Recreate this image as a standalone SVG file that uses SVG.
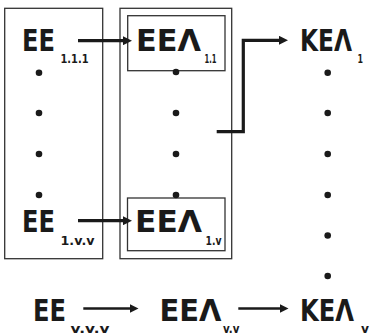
<svg xmlns="http://www.w3.org/2000/svg" width="370" height="334" viewBox="0 0 370 334">
<defs>
<style>
.box{fill:none;stroke:#333;stroke-width:1.3}
.big{font-family:"DejaVu Sans","Liberation Sans",sans-serif;font-weight:bold;font-size:30px;fill:#1a1a1a}
.sub{font-family:"DejaVu Sans","Liberation Sans",sans-serif;font-weight:bold;font-size:13px;fill:#1a1a1a}
.dot{fill:#1a1a1a}
.arr{fill:none;stroke:#1a1a1a;stroke-width:3.2;marker-end:url(#ah)}
.arr2{fill:none;stroke:#1a1a1a;stroke-width:2.6;marker-end:url(#ah)}
</style>
<marker id="ah" viewBox="0 0 9 9" refX="1" refY="4.5" markerWidth="9" markerHeight="9" markerUnits="userSpaceOnUse" orient="auto">
<path d="M0,0 L9,4.5 L0,9 z" fill="#1a1a1a"/>
</marker>
</defs>
<rect width="370" height="334" fill="#fff"/>

<g id="box-left"><rect class="box" x="4.7" y="8.3" width="98" height="250.4"/></g>
<g id="box-middle"><rect class="box" x="120" y="8.3" width="111.7" height="250.4"/></g>
<g id="box-eel11"><rect class="box" x="127.7" y="15.7" width="97.3" height="55"/></g>
<g id="box-eel1v"><rect class="box" x="127.5" y="198" width="97.5" height="52.7"/></g>

<g id="node-ee111">
<text class="big" x="22" y="51" textLength="33" lengthAdjust="spacingAndGlyphs">EE</text>
<text class="sub" x="60.5" y="63" textLength="28" lengthAdjust="spacingAndGlyphs">1.1.1</text>
</g>
<g id="node-eel11">
<text class="big" x="136" y="51" textLength="65" lengthAdjust="spacingAndGlyphs">EEΛ</text>
<text class="sub" x="204.5" y="63" textLength="12" lengthAdjust="spacingAndGlyphs">1.1</text>
</g>
<g id="node-kel1">
<text class="big" x="300" y="51" textLength="52" lengthAdjust="spacingAndGlyphs">KEΛ</text>
<text class="sub" x="357.5" y="63" textLength="5.5" lengthAdjust="spacingAndGlyphs">1</text>
</g>
<g id="node-ee1vv">
<text class="big" x="22" y="231.5" textLength="33" lengthAdjust="spacingAndGlyphs">EE</text>
<text class="sub" x="60.5" y="245" textLength="34" lengthAdjust="spacingAndGlyphs">1.v.v</text>
</g>
<g id="node-eel1v">
<text class="big" x="135" y="231.5" textLength="67" lengthAdjust="spacingAndGlyphs">EEΛ</text>
<text class="sub" x="205.5" y="245" textLength="16" lengthAdjust="spacingAndGlyphs">1.v</text>
</g>
<g id="node-eevvv">
<text class="big" x="33" y="320.5" textLength="33" lengthAdjust="spacingAndGlyphs">EE</text>
<text class="sub" x="70.5" y="332.5" textLength="39" lengthAdjust="spacingAndGlyphs">v.v.v</text>
</g>
<g id="node-eelvv">
<text class="big" x="159.5" y="320.5" textLength="62" lengthAdjust="spacingAndGlyphs">EEΛ</text>
<text class="sub" x="223" y="332.5" textLength="16.5" lengthAdjust="spacingAndGlyphs">v.v</text>
</g>
<g id="node-kelv">
<text class="big" x="300" y="320.5" textLength="54" lengthAdjust="spacingAndGlyphs">KEΛ</text>
<text class="sub" x="361" y="332.5" textLength="8" lengthAdjust="spacingAndGlyphs">v</text>
</g>

<g id="dots">
<circle class="dot" cx="39" cy="72.7" r="3.3"/>
<circle class="dot" cx="39" cy="113" r="3.3"/>
<circle class="dot" cx="39" cy="154" r="3.3"/>
<circle class="dot" cx="39" cy="195" r="3.3"/>
<circle class="dot" cx="176" cy="72" r="3.3"/>
<circle class="dot" cx="176" cy="113" r="3.3"/>
<circle class="dot" cx="176" cy="154" r="3.3"/>
<circle class="dot" cx="176" cy="195" r="3.3"/>
<circle class="dot" cx="327.7" cy="72.7" r="3.3"/>
<circle class="dot" cx="327.7" cy="113" r="3.3"/>
<circle class="dot" cx="327.7" cy="154" r="3.3"/>
<circle class="dot" cx="327.7" cy="195" r="3.3"/>
<circle class="dot" cx="327.7" cy="235.5" r="3.3"/>
<circle class="dot" cx="327.7" cy="276" r="3.3"/>
</g>

<g id="connectors">
<path class="arr" d="M78,40.7 H124"/>
<path class="arr" d="M78,220.7 H124"/>
<path class="arr" d="M216.7,131.7 H243.3 V40.3 H280"/>
<path class="arr2" d="M83.3,308.5 H130.5"/>
<path class="arr2" d="M238.3,308.5 H280.5"/>
</g>
</svg>
